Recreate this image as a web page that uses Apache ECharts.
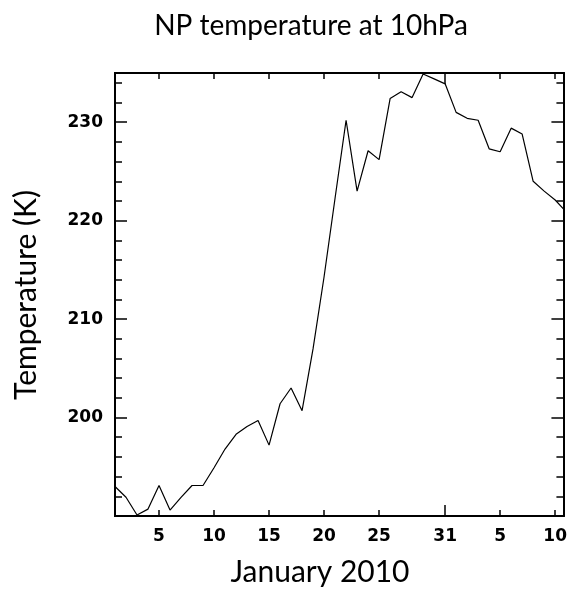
<!DOCTYPE html>
<html>
<head>
<meta charset="utf-8">
<script src="https://cdn.jsdelivr.net/npm/echarts@6/dist/echarts.min.js"></script>
<style>html,body{margin:0;padding:0;background:#fff;}#c{width:570px;height:590px;}</style>
</head>
<body>
<div id="c"></div>
<script>
// Day of year (1 = Jan 1, 32 = Feb 1)
const days = [1,2,3,4,5,6,7,8,9,10,11,12,13,14,15,16,17,18,19,20,21,22,23,24,25,26,27,28,29,30,31,32,33,34,35,36,37,38,39,40,41,41.75];
const temps = [193.0,191.9,190.1,190.7,193.1,190.6,191.9,193.1,193.1,194.9,196.8,198.3,199.1,199.7,197.2,201.4,203.0,200.7,207.0,214.3,222.3,230.2,223.0,227.1,226.2,232.4,233.1,232.5,234.9,234.4,233.9,231.0,230.4,230.2,227.3,227.0,229.4,228.8,224.0,223.0,222.1,221.2];
const xTickDays = [5,10,15,20,25,31,36,41];
const xTickLabels = ['5','10','15','20','25','31','5','10'];
const yMajor = [200,210,220,230];
const yMinor = [192,194,196,198,202,204,206,208,212,214,216,218,222,224,226,228,232,234];
const titleText = 'NP temperature at 10hPa';
const xName = 'January 2010';
const yName = 'Temperature (K)';

const chart = echarts.init(document.getElementById('c'), null, {renderer:'canvas'});
const labelFont = {fontFamily:'DejaVu Sans', fontWeight:'bold', fontSize:17, color:'#000'};
const axLine = {show:true, lineStyle:{color:'#000', width:2}};
function xAxisDef(pos, showLabel, ticks, len){
  return {type:'value', position:pos, min:1, max:41.75,
    axisLine:axLine, splitLine:{show:false},
    axisTick:{show:true, inside:true, length:len, customValues:ticks, lineStyle:{color:'#000', width:1.5}},
    axisLabel:{show:showLabel, customValues:xTickDays, margin:12, ...labelFont,
      formatter:v=>{const i=xTickDays.indexOf(v);return i>=0?xTickLabels[i]:'';}}};
}
function yAxisDef(pos, showLabel, ticks, len){
  return {type:'value', position:pos, min:190, max:235,
    axisLine:axLine, splitLine:{show:false},
    axisTick:{show:true, inside:true, length:len, customValues:ticks, lineStyle:{color:'#000', width:1.5}},
    axisLabel:{show:showLabel, customValues:yMajor, margin:12, ...labelFont}};
}
const shortX = xTickDays.filter(d=>d!==31);
chart.setOption({
  animation:false,
  grid:{left:115, right:3, top:73, bottom:74, containLabel:false},
  xAxis:[
    xAxisDef('bottom', true, shortX, 6),
    xAxisDef('bottom', false, [31], 11),
    xAxisDef('top', false, shortX, 6),
    xAxisDef('top', false, [31], 11)
  ],
  yAxis:[
    yAxisDef('left', true, yMajor, 12),
    yAxisDef('left', false, yMinor, 7),
    yAxisDef('right', false, yMajor, 12),
    yAxisDef('right', false, yMinor, 7)
  ],
  graphic:[
    {type:'text', x:311, y:26, style:{text:titleText, font:'28px Lato', fill:'#000', align:'center', verticalAlign:'middle'}},
    {type:'text', x:320, y:572, style:{text:xName, font:'30px Lato', fill:'#000', align:'center', verticalAlign:'middle'}},
    {type:'text', x:26, y:295, rotation:Math.PI/2, style:{text:yName, font:'30px Lato', fill:'#000', align:'center', verticalAlign:'middle'}}
  ],
  series:[{
    type:'line', xAxisIndex:0, yAxisIndex:0, showSymbol:false, symbol:'none',
    lineStyle:{color:'#000', width:1.2},
    data: days.map((d,i)=>[d,temps[i]])
  }]
});
</script>
</body>
</html>
